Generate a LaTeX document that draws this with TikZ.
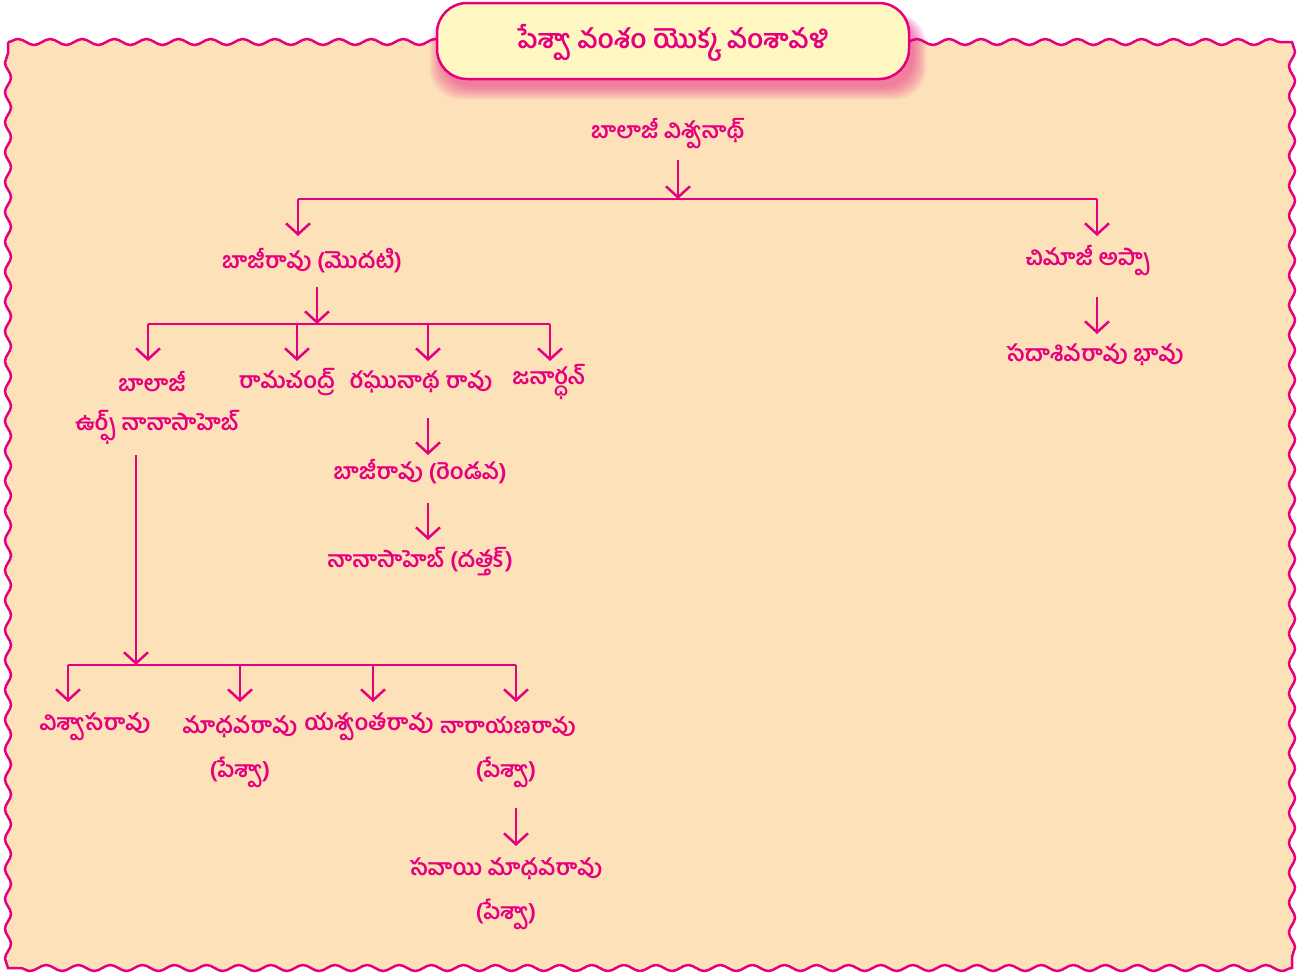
\documentclass[tikz,border=0pt]{standalone}
\usepackage{fontspec}
\newfontfamily\tel[Script=Telugu]{Hind Guntur}
\usetikzlibrary{arrows.meta,decorations.pathmorphing}
\definecolor{pinkc}{HTML}{E6007E}
\definecolor{bgc}{HTML}{FDE2B9}
\definecolor{ttl}{HTML}{FFF7C2}
\tikzset{
  lbl/.style={font=\tel\bfseries\fontsize{22.5}{26}\selectfont, text=pinkc, inner sep=0pt},
  conn/.style={draw=pinkc, line width=2.5pt},
  arr/.style={conn, -{Straight Barb[length=11pt,width=24pt,line width=2.5pt]}},
}
\begin{document}
\begin{tikzpicture}[x=1pt,y=-1pt]
\useasboundingbox (0,0) rectangle (1314,975);
\fill[white] (0,0) rectangle (1314,975);
% wavy frame
\filldraw[fill=bgc, draw=pinkc, line width=2.5pt]
 (8,42) decorate[decoration={snake,segment length=32.1pt,amplitude=3pt}]{-- (1292,42)}
 decorate[decoration={snake,segment length=29.87pt,amplitude=3pt}]{-- (1292,968)}
 decorate[decoration={snake,segment length=32.1pt,amplitude=3pt}]{-- (8,968)}
 decorate[decoration={snake,segment length=29.87pt,amplitude=3pt}]{-- (8,42)} -- cycle;
% title shadow
\foreach \e in {0,2,...,12}{
  \fill[pinkc, opacity=0.08, rounded corners=30pt] (442-\e,14) rectangle (914+\e,87+\e);
}
\node[draw=pinkc, line width=2.5pt, fill=ttl, rounded corners=30pt,
      minimum width=472pt, minimum height=76pt] (title) at (673,41) {};
\node[lbl, font=\tel\bfseries\fontsize{26.5}{30}\selectfont] (titletext) at (673,43) {పేశ్వా వంశం యొక్క వంశావళి};

% nodes
\node[lbl] (bv) at (668,134) {బాలాజీ విశ్వనాథ్};
\node[lbl] (b1) at (312,261) {బాజీరావు (మొదటి)};
\node[lbl] (ca) at (1088,261) {చిమాజీ అప్పా};
\node[lbl] (sb) at (1095,355) {సదాశివరావు భావు};
\node[lbl] (bl) at (152,382) {బాలాజీ};
\node[lbl] (bl2) at (157,427) {ఉర్ఫ్ నానాసాహెబ్};
\node[lbl] (rc) at (287,382) {రామచంద్ర్};
\node[lbl] (rr) at (421,382) {రఘునాథ రావు};
\node[lbl] (jn) at (549,382) {జనార్ధన్};
\node[lbl] (b2) at (420,472) {బాజీరావు (రెండవ)};
\node[lbl] (nd) at (420,562) {నానాసాహెబ్ (దత్తక్)};
\node[lbl] (vr) at (95,727) {విశ్వాసరావు};
\node[lbl] (mr) at (240,727) {మాధవరావు};
\node[lbl] (mr2) at (240,772) {(పేశ్వా)};
\node[lbl] (yr) at (369,727) {యశ్వంతరావు};
\node[lbl, font=\tel\bfseries\fontsize{21.5}{26}\selectfont] (nr) at (508,727) {నారాయణరావు};
\node[lbl] (nr2) at (506,772) {(పేశ్వా)};
\node[lbl] (sm) at (506,869) {సవాయి మాధవరావు};
\node[lbl] (sm2) at (506,914) {(పేశ్వా)};

% junction coordinates
\coordinate (a0) at (678,160);
\coordinate (j0) at (678,199);
\coordinate (j0l) at (298,199);
\coordinate (j0r) at (1097,199);
\coordinate (a1) at (317,287);
\coordinate (j1) at (317,324);
\coordinate (j1a) at (148,324);
\coordinate (j1b) at (297,324);
\coordinate (j1c) at (428,324);
\coordinate (j1d) at (550,324);
\coordinate (a2) at (1097,297);
\coordinate (a3) at (428,418);
\coordinate (a4) at (428,503);
\coordinate (a5) at (136,455);
\coordinate (j5) at (136,665);
\coordinate (j5a) at (68,665);
\coordinate (j5b) at (240,665);
\coordinate (j5c) at (373,665);
\coordinate (j5d) at (516,665);
\coordinate (a6) at (516,808);

% connectors
\draw[arr] (a0) -- (j0);
\draw[conn] (j0l) -- (j0r);
\draw[arr] (j0l) -- ++(0,37);
\draw[arr] (j0r) -- ++(0,37);
\draw[arr] (a1) -- (j1);
\draw[conn] (j1a) -- (j1d);
\draw[arr] (j1a) -- ++(0,37);
\draw[arr] (j1b) -- ++(0,37);
\draw[arr] (j1c) -- ++(0,37);
\draw[arr] (j1d) -- ++(0,37);
\draw[arr] (a2) -- ++(0,37);
\draw[arr] (a3) -- ++(0,37);
\draw[arr] (a4) -- ++(0,37);
\draw[arr] (a5) -- (j5);
\draw[conn] (j5a) -- (j5d);
\draw[arr] (j5a) -- ++(0,37);
\draw[arr] (j5b) -- ++(0,37);
\draw[arr] (j5c) -- ++(0,37);
\draw[arr] (j5d) -- ++(0,37);
\draw[arr] (a6) -- ++(0,38);
\end{tikzpicture}
\end{document}
